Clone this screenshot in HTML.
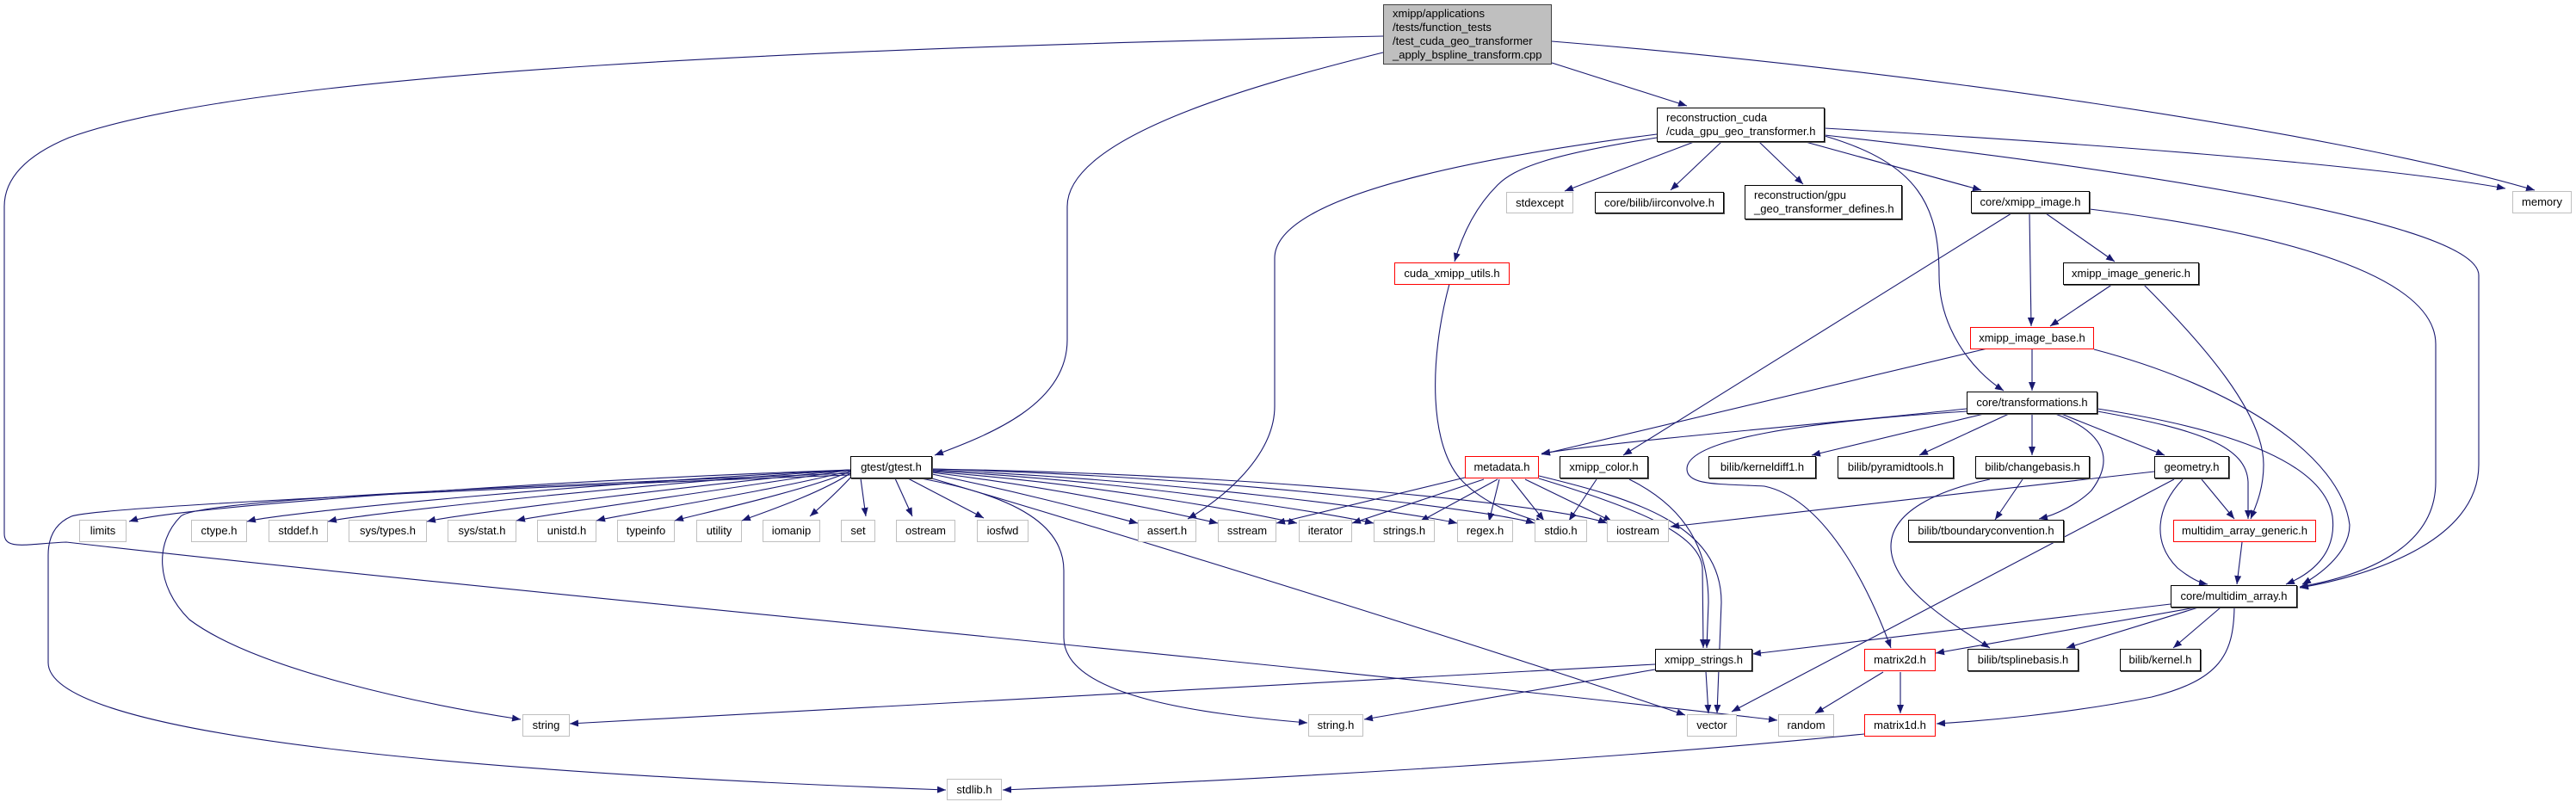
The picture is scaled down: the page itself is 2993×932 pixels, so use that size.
<!DOCTYPE html>
<html><head><meta charset="utf-8"><style>
html,body{margin:0;padding:0;background:#fff;}
#c{position:relative;width:2993px;height:932px;overflow:hidden;font-family:"Liberation Sans",sans-serif;font-size:13px;}
svg{position:absolute;left:0;top:0;}
.n{position:absolute;box-sizing:border-box;background:#fff;display:flex;align-items:center;justify-content:center;white-space:nowrap;color:#000;line-height:16px;}
.b{border:1.5px solid #000;box-shadow:1px 1px 0 #555;}
.g{border:1px solid #bfbfbf;}
.r{border:1px solid #ff0000;}
.l{justify-content:flex-start;padding-left:10px;}
.m{background:#bfbfbf;border:1.5px solid #404040;}
</style></head><body><div id="c">
<svg width="2993" height="932" viewBox="0 0 2993 932">
<defs><marker id="a" viewBox="0 0 10 8" refX="10" refY="4" markerWidth="10" markerHeight="8" markerUnits="userSpaceOnUse" orient="auto"><path d="M0,0L10,4L0,8z" fill="#191970"/></marker></defs>
<g fill="none" stroke="#191970" stroke-width="1.1" marker-end="url(#a)">
<path d="M1803,48 C2200,80 2700,150 2945,221"/>
<path d="M1803,73 L1960,123"/>
<path d="M1607,61 C1450,100 1240,160 1240,240 L1240,395 C1240,470 1150,505 1086,529"/>
<path d="M1607,42 C1000,55 300,80 80,160 C20,185 5,215 5,240 L5,620 C5,640 30,632 77,630 C600,690 1500,770 2065,837"/>
<path d="M988,546 C600,560 200,590 150,606"/>
<path d="M988,546 C700,560 330,595 287,606"/>
<path d="M988,546 C750,562 420,597 381,606"/>
<path d="M988,546 C800,565 530,598 496,606"/>
<path d="M988,546 C850,568 630,598 600,605"/>
<path d="M988,547 C900,570 720,598 693,605"/>
<path d="M988,548 C930,572 800,600 784,605"/>
<path d="M988,550 C950,575 880,598 862,605"/>
<path d="M990,553 C970,575 950,592 941,600"/>
<path d="M1000,556 L1006,600"/>
<path d="M1040,556 L1060,600"/>
<path d="M1055,556 L1143,602"/>
<path d="M1083,551 C1200,575 1290,600 1322,608"/>
<path d="M1083,549 C1250,570 1380,600 1415,608"/>
<path d="M1083,548 C1300,565 1470,600 1507,608"/>
<path d="M1083,547 C1350,562 1560,600 1596,608"/>
<path d="M1083,546 C1400,560 1650,598 1693,608"/>
<path d="M1083,545 C1450,555 1740,595 1783,608"/>
<path d="M1083,545 C1500,552 1820,590 1867,608"/>
<path d="M988,550 C600,565 230,580 210,600 C180,630 180,680 220,720 C300,780 500,820 605,836"/>
<path d="M988,552 C500,570 110,590 83,600 C60,610 56,630 56,645 L56,770 C56,860 600,900 1099,918"/>
<path d="M1070,556 C1200,580 1236,620 1236,663 L1236,741 C1236,810 1400,830 1519,840"/>
<path d="M1083,556 C1400,650 1750,760 1958,831"/>
<path d="M1925,156 C1700,185 1481,230 1481,300 L1481,472 C1481,530 1420,580 1380,603"/>
<path d="M1925,160 C1800,180 1760,195 1740,215 C1715,240 1700,270 1690,304"/>
<path d="M1968,165 L1818,222"/>
<path d="M2000,165 L1941,221"/>
<path d="M2044,165 L2095,214"/>
<path d="M2098,165 L2302,221"/>
<path d="M2120,158 C2230,190 2253,240 2253,320 C2253,380 2290,430 2328,454"/>
<path d="M2120,149 C2400,165 2750,190 2911,219"/>
<path d="M2120,157 C2500,200 2880,260 2880,320 L2880,540 C2880,630 2750,670 2672,683"/>
<path d="M1684,330 C1660,420 1660,520 1700,560 C1730,590 1770,600 1794,608"/>
<path d="M2337,248 L1886,529"/>
<path d="M2358,248 L2360,379"/>
<path d="M2377,248 L2457,304"/>
<path d="M2428,243 C2650,270 2830,320 2830,400 L2830,560 C2830,640 2740,670 2672,682"/>
<path d="M2455,330 L2382,379"/>
<path d="M2490,330 C2560,400 2630,480 2630,540 C2630,570 2620,590 2615,603"/>
<path d="M2361,405 L2361,454"/>
<path d="M2309,405 L1791,528"/>
<path d="M2433,406 C2600,450 2720,530 2730,610 C2730,640 2700,665 2675,679"/>
<path d="M2285,475 C2100,495 1900,510 1791,527"/>
<path d="M2285,478 C2100,490 1960,510 1960,545 C1960,565 2000,562 2050,565 C2120,580 2170,680 2197,753"/>
<path d="M2305,481 L2105,529"/>
<path d="M2334,481 L2230,529"/>
<path d="M2361,481 L2361,529"/>
<path d="M2388,481 C2440,500 2460,530 2430,570 C2415,585 2390,598 2369,603"/>
<path d="M2395,481 L2515,529"/>
<path d="M2437,478 C2560,500 2610,520 2612,560 L2612,603"/>
<path d="M2437,475 C2600,500 2700,540 2710,600 C2715,640 2690,665 2656,679"/>
<path d="M1702,555 L1483,608"/>
<path d="M1724,557 L1571,608"/>
<path d="M1740,557 L1650,606"/>
<path d="M1742,557 L1730,606"/>
<path d="M1756,557 L1794,605"/>
<path d="M1772,557 L1873,606"/>
<path d="M1788,556 C1900,590 1975,620 1978,660 L1979,753"/>
<path d="M1788,553 C1900,580 2000,610 2000,700 L1995,829"/>
<path d="M1855,557 L1823,605"/>
<path d="M1893,557 C1960,590 1985,640 1985,700 L1983,753"/>
<path d="M2350,557 L2318,604"/>
<path d="M2312,557 C2250,570 2197,595 2197,635 C2197,680 2260,720 2312,753"/>
<path d="M2503,548 L1941,612"/>
<path d="M2526,557 L2012,827"/>
<path d="M2558,557 L2596,603"/>
<path d="M2536,557 C2505,590 2500,630 2530,660 C2545,672 2555,677 2565,679"/>
<path d="M2605,630 L2599,679"/>
<path d="M2522,702 L2036,760"/>
<path d="M2551,706 L2249,759"/>
<path d="M2554,706 L2401,753"/>
<path d="M2580,706 L2525,753"/>
<path d="M2596,706 C2595,760 2580,790 2500,810 C2400,830 2300,838 2250,841"/>
<path d="M2188,781 L2109,829"/>
<path d="M2208,781 L2208,829"/>
<path d="M2166,853 C1900,880 1500,905 1165,918"/>
<path d="M1923,772 L662,841"/>
<path d="M1923,778 L1585,836"/>
<path d="M1982,780 L1985,829"/>
</g></svg>

<div class="n m l" style="left:1607px;top:5px;width:196px;height:70px;flex-direction:column;align-items:flex-start;justify-content:center;">xmipp/applications<br>/tests/function_tests<br>/test_cuda_geo_transformer<br>_apply_bspline_transform.cpp</div>
<div class="n b l" style="left:1925px;top:125px;width:195px;height:40px;">reconstruction_cuda<br>/cuda_gpu_geo_transformer.h</div>
<div class="n b l" style="left:2027px;top:215px;width:183px;height:40px;">reconstruction/gpu<br>_geo_transformer_defines.h</div>
<div class="n g" style="left:1750px;top:223px;width:78px;height:25px;">stdexcept</div>
<div class="n b" style="left:1853px;top:223px;width:150px;height:25px;">core/bilib/iirconvolve.h</div>
<div class="n b" style="left:2290px;top:222px;width:138px;height:26px;">core/xmipp_image.h</div>
<div class="n g" style="left:2919px;top:222px;width:69px;height:26px;">memory</div>
<div class="n r" style="left:1620px;top:305px;width:134px;height:26px;">cuda_xmipp_utils.h</div>
<div class="n b" style="left:2397px;top:305px;width:158px;height:26px;">xmipp_image_generic.h</div>
<div class="n r" style="left:2289px;top:380px;width:144px;height:26px;">xmipp_image_base.h</div>
<div class="n b" style="left:2285px;top:455px;width:152px;height:26px;">core/transformations.h</div>
<div class="n b" style="left:988px;top:530px;width:95px;height:26px;">gtest/gtest.h</div>
<div class="n r" style="left:1702px;top:530px;width:86px;height:26px;">metadata.h</div>
<div class="n b" style="left:1812px;top:530px;width:103px;height:26px;">xmipp_color.h</div>
<div class="n b" style="left:1985px;top:530px;width:125px;height:26px;">bilib/kerneldiff1.h</div>
<div class="n b" style="left:2135px;top:530px;width:135px;height:26px;">bilib/pyramidtools.h</div>
<div class="n b" style="left:2295px;top:530px;width:133px;height:26px;">bilib/changebasis.h</div>
<div class="n b" style="left:2503px;top:530px;width:87px;height:26px;">geometry.h</div>

<div class="n g" style="left:92px;top:604px;width:55px;height:26px;">limits</div>
<div class="n g" style="left:222px;top:604px;width:65px;height:26px;">ctype.h</div>
<div class="n g" style="left:312px;top:604px;width:69px;height:26px;">stddef.h</div>
<div class="n g" style="left:405px;top:604px;width:91px;height:26px;">sys/types.h</div>
<div class="n g" style="left:520px;top:604px;width:80px;height:26px;">sys/stat.h</div>
<div class="n g" style="left:624px;top:604px;width:69px;height:26px;">unistd.h</div>
<div class="n g" style="left:717px;top:604px;width:67px;height:26px;">typeinfo</div>
<div class="n g" style="left:809px;top:604px;width:53px;height:26px;">utility</div>
<div class="n g" style="left:886px;top:604px;width:67px;height:26px;">iomanip</div>
<div class="n g" style="left:977px;top:604px;width:40px;height:26px;">set</div>
<div class="n g" style="left:1041px;top:604px;width:69px;height:26px;">ostream</div>
<div class="n g" style="left:1135px;top:604px;width:60px;height:26px;">iosfwd</div>
<div class="n g" style="left:1322px;top:604px;width:68px;height:26px;">assert.h</div>
<div class="n g" style="left:1415px;top:604px;width:68px;height:26px;">sstream</div>
<div class="n g" style="left:1509px;top:604px;width:62px;height:26px;">iterator</div>
<div class="n g" style="left:1596px;top:604px;width:71px;height:26px;">strings.h</div>
<div class="n g" style="left:1693px;top:604px;width:65px;height:26px;">regex.h</div>
<div class="n g" style="left:1783px;top:604px;width:61px;height:26px;">stdio.h</div>
<div class="n g" style="left:1867px;top:604px;width:72px;height:26px;">iostream</div>
<div class="n b" style="left:2217px;top:604px;width:181px;height:26px;">bilib/tboundaryconvention.h</div>
<div class="n r" style="left:2525px;top:604px;width:166px;height:26px;">multidim_array_generic.h</div>

<div class="n b" style="left:2522px;top:680px;width:147px;height:26px;">core/multidim_array.h</div>
<div class="n b" style="left:1923px;top:754px;width:113px;height:26px;">xmipp_strings.h</div>
<div class="n r" style="left:2166px;top:754px;width:83px;height:26px;">matrix2d.h</div>
<div class="n b" style="left:2286px;top:754px;width:129px;height:26px;">bilib/tsplinebasis.h</div>
<div class="n b" style="left:2463px;top:754px;width:94px;height:26px;">bilib/kernel.h</div>

<div class="n g" style="left:607px;top:830px;width:55px;height:26px;">string</div>
<div class="n g" style="left:1520px;top:830px;width:64px;height:26px;">string.h</div>
<div class="n g" style="left:1960px;top:830px;width:58px;height:26px;">vector</div>
<div class="n g" style="left:2066px;top:830px;width:65px;height:26px;">random</div>
<div class="n r" style="left:2166px;top:830px;width:83px;height:26px;">matrix1d.h</div>
<div class="n g" style="left:1100px;top:905px;width:64px;height:25px;">stdlib.h</div>
</div></body></html>
